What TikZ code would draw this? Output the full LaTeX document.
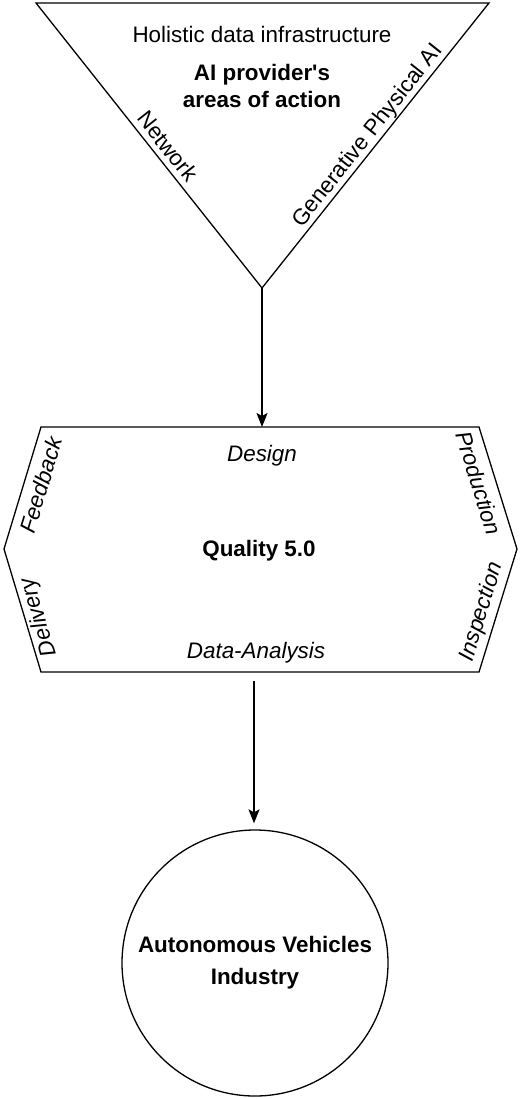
\documentclass[tikz,border=0pt]{standalone}
\usepackage{fontspec}
\setmainfont{Liberation Sans}[Ligatures=TeXOff]
\usetikzlibrary{arrows.meta}
\begin{document}
\begin{tikzpicture}[x=1pt,y=-1pt,line width=1.3pt,line join=miter,
  lbl/.style={inner sep=0pt,font=\fontsize{22.4}{27}\selectfont},
  boldlbl/.style={inner sep=0pt,font=\fontsize{22.4}{27}\selectfont\bfseries},
  itlbl/.style={inner sep=0pt,font=\fontsize{22.4}{27}\selectfont\itshape},
  conn/.style={-{Stealth[length=14pt,width=11pt,inset=3pt]},line width=1.3pt}]
\useasboundingbox (0,0) rectangle (520,1099);
% triangle
\coordinate (tl) at (36,3);
\coordinate (tr) at (489,3);
\coordinate (apex) at (262,288);
\draw (tl) -- (tr) -- (apex) -- cycle;
\node[lbl,anchor=base] (holistic) at (262,42.5) {Holistic data infrastructure};
\node[boldlbl,anchor=base] (prov1) at (262,81) {AI provider's};
\node[boldlbl,anchor=base] (prov2) at (262,108) {areas of action};
\node[lbl,rotate=-51.6] (network) at (168,146) {Network};
\node[lbl,rotate=51.6] (gen) at (368,136) {Generative Physical AI};
% hexagon
\coordinate (h1) at (41,427);
\coordinate (h2) at (479,427);
\coordinate (h3) at (517,549);
\coordinate (h4) at (479,672);
\coordinate (h5) at (41,672);
\coordinate (h6) at (4,549);
\coordinate (htop) at (262,427);
\draw (h1) -- (h2) -- (h3) -- (h4) -- (h5) -- (h6) -- cycle;
\node[itlbl,anchor=base] (design) at (262,461.5) {Design};
\node[boldlbl,anchor=base] (quality) at (259,556) {Quality 5.0};
\node[itlbl,anchor=base] (analysis) at (256,658) {Data-Analysis};
\node[itlbl,rotate=73.1] (feedback) at (41,485) {Feedback};
\node[itlbl,rotate=106.7] (delivery) at (39,617) {Delivery};
\node[itlbl,rotate=-72.7] (production) at (479,483) {Production};
\node[itlbl,rotate=72.8] (inspection) at (482,612) {Inspection};
% circle
\node[circle,draw,minimum size=266pt,inner sep=0pt,align=center,
  font=\fontsize{22.4}{32}\selectfont\bfseries] (ind) at (255,963)
  {Autonomous Vehicles\\Industry};
\coordinate (qout) at (254,681);
% connectors
\draw[conn] (apex) -- (htop);
\draw[conn,shorten >=6pt] (qout) -- (qout |- ind.north);
\end{tikzpicture}
\end{document}
